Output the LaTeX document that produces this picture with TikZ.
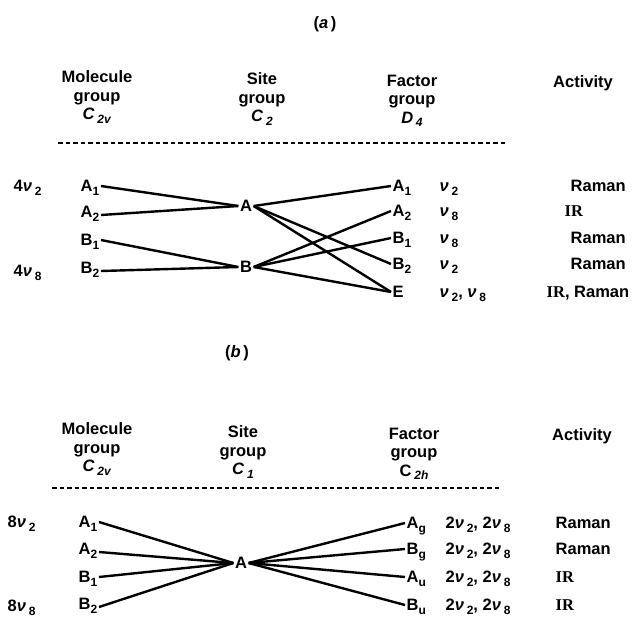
\documentclass[tikz,border=0pt]{standalone}
\usepackage{fontspec}
\setmainfont{Liberation Sans}
\newfontfamily\irfont{Liberation Serif}
\newcommand{\lsub}[1]{\raisebox{-0.4ex}{\fontsize{12}{12}\selectfont #1}}
\newcommand{\nuv}{\textit{ν}}
\newcommand{\IR}{{\irfont IR}}
\begin{document}
\begin{tikzpicture}[x=1pt,y=-1pt,
  every node/.style={font=\fontsize{16.5}{18.5}\selectfont\bfseries, inner sep=1.5pt, text height=11.8pt, text depth=0pt},
  hdr/.style={align=center, text height=, text depth=},
  lw/.style={anchor=west},
  conn/.style={line width=2.4pt},
  dline/.style={line width=1.7pt, dash pattern=on 4.5pt off 3pt}]
\useasboundingbox (0,0) rectangle (633,625);
% ---------- (a)
\node (lblA) at (325,23) {(\textit{a}\,)};
\node[hdr] (hMa) at (97,97) {Molecule\\group\\\textit{C}\,\lsub{\textit{2v}}};
\node[hdr] (hSa) at (262,99) {Site\\group\\\textit{C}\,\lsub{\textit{2}}};
\node[hdr] (hFa) at (412,101) {Factor\\group\\\textit{D}\,\lsub{\textit{4}}};
\node (hAa) at (583,82) {Activity};
\coordinate (da1) at (58,143);
\coordinate (da2) at (506,143);
\draw[dline] (da1) -- (da2);
\node[lw] (na2) at (12,186) {4\nuv\,\lsub{2}};
\node[lw] (na8) at (12,271) {4\nuv\,\lsub{8}};
\node[lw] (ma1) at (79,186) {A\lsub{1}};
\node[lw] (ma2) at (79,212) {A\lsub{2}};
\node[lw] (mb1) at (79,240) {B\lsub{1}};
\node[lw] (mb2) at (79,268) {B\lsub{2}};
\node (sa) at (246,206) {A};
\node (sb) at (246,267) {B};
\node[lw] (fa1) at (391,186) {A\lsub{1}};
\node[lw] (fa2) at (391,211) {A\lsub{2}};
\node[lw] (fb1) at (391,238) {B\lsub{1}};
\node[lw] (fb2) at (391,264) {B\lsub{2}};
\node[lw] (fe) at (391,292) {E};
\node[lw] (v1) at (438,186) {\nuv\,\lsub{2}};
\node[lw] (v2) at (438,211) {\nuv\,\lsub{8}};
\node[lw] (v3) at (438,238) {\nuv\,\lsub{8}};
\node[lw] (v4) at (438,264) {\nuv\,\lsub{2}};
\node[lw] (v5) at (438,292) {\nuv\,\lsub{2}, \nuv\,\lsub{8}};
\node[lw] (ac1) at (569,186) {Raman};
\node[lw] (ac2) at (563,211) {\IR};
\node[lw] (ac3) at (569,238) {Raman};
\node[lw] (ac4) at (569,264) {Raman};
\node[lw] (ac5) at (545,292) {\IR, Raman};
\draw[conn] (ma1.east) -- (sa.west);
\draw[conn] ([yshift=-3pt]ma2.east) -- (sa.west);
\draw[conn] (mb1.east) -- (sb.west);
\draw[conn] ([yshift=-3pt]mb2.east) -- (sb.west);
\draw[conn] (sa.east) -- (fa1.west);
\draw[conn] (sa.east) -- (fb2.west);
\draw[conn] (sa.east) -- (fe.west);
\draw[conn] (sb.east) -- (fa2.west);
\draw[conn] (sb.east) -- (fb1.west);
\draw[conn] (sb.east) -- (fe.west);
% ---------- (b)
\node (lblB) at (237,352) {(\textit{b}\,)};
\node[hdr] (hMb) at (97,449) {Molecule\\group\\\textit{C}\,\lsub{\textit{2v}}};
\node[hdr] (hSb) at (243,452) {Site\\group\\\textit{C}\,\lsub{\textit{1}}};
\node[hdr] (hFb) at (414,454) {Factor\\group\\C\,\lsub{\textit{2h}}};
\node (hAb) at (582,435) {Activity};
\coordinate (db1) at (52,488);
\coordinate (db2) at (502,488);
\draw[dline] (db1) -- (db2);
\node[lw] (nb2) at (6,522) {8\nuv\,\lsub{2}};
\node[lw] (nb8) at (6,606) {8\nuv\,\lsub{8}};
\node[lw] (mba1) at (77,522) {A\lsub{1}};
\node[lw] (mba2) at (77,549) {A\lsub{2}};
\node[lw] (mbb1) at (77,577) {B\lsub{1}};
\node[lw] (mbb2) at (77,604) {B\lsub{2}};
\node (sA) at (241,563) {A};
\node[lw] (fag) at (405,523) {A\lsub{g}};
\node[lw] (fbg) at (405,549) {B\lsub{g}};
\node[lw] (fau) at (405,577) {A\lsub{u}};
\node[lw] (fbu) at (405,605) {B\lsub{u}};
\node[lw] (w1) at (444,523) {2\nuv\,\lsub{2}, 2\nuv\,\lsub{8}};
\node[lw] (w2) at (444,549) {2\nuv\,\lsub{2}, 2\nuv\,\lsub{8}};
\node[lw] (w3) at (444,577) {2\nuv\,\lsub{2}, 2\nuv\,\lsub{8}};
\node[lw] (w4) at (444,605) {2\nuv\,\lsub{2}, 2\nuv\,\lsub{8}};
\node[lw] (bc1) at (554,523) {Raman};
\node[lw] (bc2) at (554,549) {Raman};
\node[lw] (bc3) at (554,577) {\IR};
\node[lw] (bc4) at (554,605) {\IR};
\draw[conn] (mba1.east) -- (sA.west);
\draw[conn] ([yshift=-3pt]mba2.east) -- (sA.west);
\draw[conn] (mbb1.east) -- (sA.west);
\draw[conn] ([yshift=-3pt]mbb2.east) -- (sA.west);
\draw[conn] (sA.east) -- (fag.west);
\draw[conn] (sA.east) -- (fbg.west);
\draw[conn] (sA.east) -- (fau.west);
\draw[conn] (sA.east) -- (fbu.west);
\end{tikzpicture}
\end{document}
